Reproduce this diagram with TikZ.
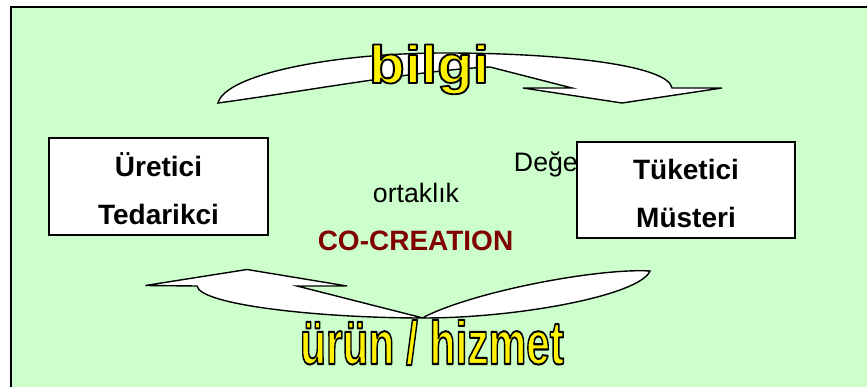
\documentclass[tikz,border=0pt]{standalone}
\usepackage{fontspec}
\setmainfont{Liberation Sans}
\definecolor{panelgreen}{HTML}{CCFFCC}
\definecolor{cocolor}{HTML}{800000}
% text filled in the current colour and stroked in black
\newcommand\outlinedword[2][1.8]{%
  \special{pdf:literal direct 0 0 0 RG #1 w 1 j 2 Tr}#2\special{pdf:literal direct 0 Tr}}
\begin{document}
\begin{tikzpicture}[x=1pt,y=-1pt,
  partner/.style={draw=black, line width=2pt, fill=white, inner sep=0pt},
  boxtext/.style={font=\fontsize{28}{32}\selectfont\bfseries, anchor=base, inner sep=0pt},
  plain/.style={font=\fontsize{26.7}{30}\selectfont, anchor=base, inner sep=0pt},
  flowarrow/.style={draw=black, line width=1.4pt, fill=white, line join=miter},
  wordart/.style={text=yellow, anchor=base, inner sep=0pt}]

\useasboundingbox (0,0) rectangle (867,387);

% panel background with its top and left frame lines
\fill[panelgreen] (11,7) rectangle (867,387);
\draw[line width=2pt] (11,387) -- (11,7) -- (867,7);

% partly hidden word behind the consumer box
\node[plain, anchor=base east] (deger) at (578,172) {Değe};

% the two partner boxes
\node[partner, minimum width=219pt, minimum height=97pt] (uretici) at (158.5,186.5) {};
\node[boxtext] (uretici1) at (158.5,177) {Üretici};
\node[boxtext] (uretici2) at (158.5,225) {Tedarikci};

\node[partner, minimum width=218pt, minimum height=96pt] (tuketici) at (686,190) {};
\node[boxtext] (tuketici1) at (686,180) {Tüketici};
\node[boxtext] (tuketici2) at (686,228) {Müsteri};

% centre labels
\node[plain] (ortak) at (416,203) {ortaklık};
\node[plain, font=\fontsize{28}{32}\selectfont\bfseries, text=cocolor] (cocreate) at (415.5,251) {CO-CREATION};

% curved arrow on top, pointing down to the consumer
\path[flowarrow] (218,103) .. controls (225,75) and (330,53) .. (445,53)
  .. controls (560,53) and (668,65) .. (672,88) -- (722,88) -- (622,103)
  -- (523,88) -- (572,88) -- (490,67)
  .. controls (420,70) and (300,92) .. (218,103) -- cycle;

% curved arrow at the bottom, pointing back to the producer
\path[flowarrow] (145.5,285.5) -- (247,269.5) -- (347,286) -- (297,286) -- (423,318)
  .. controls (520,318) and (640,295) .. (650,271)
  .. controls (600,268) and (480,290) .. (426,316) -- (423,318)
  .. controls (320,318) and (200,305) .. (197,286) -- cycle;

% outlined headline words
\node[wordart, font=\fontsize{53}{60}\selectfont\bfseries] (bilgi) at (429,83)
  {\scalebox{1.1}[1]{\outlinedword{bilgi}}};
\node[wordart, font=\fontsize{61}{70}\selectfont\bfseries] (urun) at (432,364)
  {\scalebox{0.695}[1]{\outlinedword[2]{ürün / hizmet}}};
\end{tikzpicture}
\end{document}
